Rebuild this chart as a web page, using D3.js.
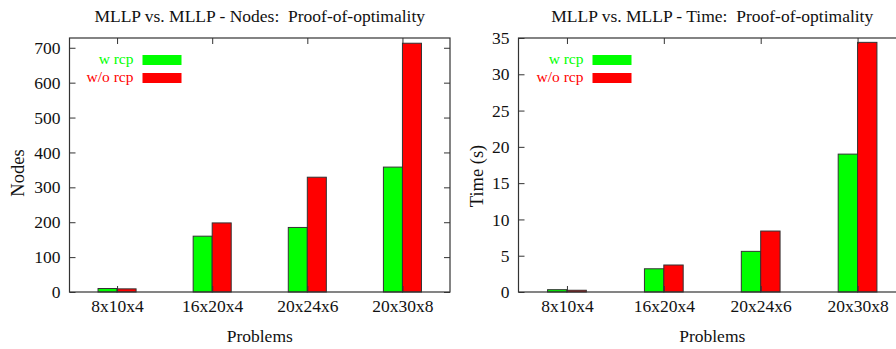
<!DOCTYPE html>
<html>
<head>
<meta charset="utf-8">
<script src="https://cdn.jsdelivr.net/npm/d3@7"></script>
<style>
  body { margin: 0; background: #fff; }
  svg text { font-family: "Liberation Serif", "Times New Roman", serif; white-space: pre; }
</style>
</head>
<body>
<div id="chart-area"></div>
<script>
// data
var problems = ["8x10x4", "16x20x4", "20x24x6", "20x30x8"];
var series = ["w rcp", "w/o rcp"];
var colors = ["#00ff00", "#ff0000"];

var nodesWith = [10, 160, 185, 358];
var nodesWithout = [9, 198, 329, 713];
var nodeTicks = [0, 100, 200, 300, 400, 500, 600, 700];

var timeWith = [0.32, 3.2, 5.6, 19.0];
var timeWithout = [0.24, 3.72, 8.4, 34.4];
var timeTicks = [0, 5, 10, 15, 20, 25, 30, 35];

var FONT = '"Liberation Serif", "Times New Roman", serif';
var FS = 17.5;

var svg = d3.select("#chart-area").append("svg")
    .attr("width", 896)
    .attr("height", 349)
    .attr("font-family", FONT);

function panel(opt) {
    var g = svg.append("g");
    var left = opt.left, right = opt.right, top = 38, bottom = 292;

    var x = d3.scaleLinear().domain([-0.5, 3.5]).range([left, right]);
    var y = d3.scaleLinear().domain([0, opt.ymax]).range([bottom, top]);
    var bw = x(0.2) - x(0);

    // bars
    [opt.a, opt.b].forEach(function (vals, s) {
        g.selectAll(null)
            .data(vals)
            .enter()
            .append("rect")
            .attr("x", (d, i) => x(i) - bw + s * bw)
            .attr("y", d => y(d))
            .attr("width", bw)
            .attr("height", d => bottom - y(d))
            .attr("fill", colors[s])
            .attr("stroke", "#333")
            .attr("stroke-width", 1);
    });

    // border
    g.append("rect")
        .attr("x", left).attr("y", top)
        .attr("width", right - left).attr("height", bottom - top)
        .attr("fill", "none").attr("stroke", "#333").attr("stroke-width", 1.2);

    // y ticks (left + mirror)
    var yAxis = d3.axisLeft(y).tickValues(opt.ticks).tickSize(-6).tickPadding(9);
    var ya = g.append("g").attr("transform", "translate(" + left + ",0)").call(yAxis);
    var yb = g.append("g").attr("transform", "translate(" + right + ",0)")
        .call(d3.axisRight(y).tickValues(opt.ticks).tickSize(-6).tickFormat(""));

    // x ticks (bottom + mirror)
    var xAxis = d3.axisBottom(x).tickValues([0, 1, 2, 3])
        .tickFormat(i => problems[i]).tickSize(-6).tickPadding(8);
    var xa = g.append("g").attr("transform", "translate(0," + bottom + ")").call(xAxis);
    var xb = g.append("g").attr("transform", "translate(0," + top + ")")
        .call(d3.axisTop(x).tickValues([0, 1, 2, 3]).tickSize(-6).tickFormat(""));

    [ya, yb, xa, xb].forEach(function (a) {
        a.attr("font-family", FONT).attr("font-size", FS);
        a.select(".domain").remove();
        a.selectAll("line").attr("stroke", "#333");
        a.selectAll("text").attr("fill", "#111");
    });

    // title
    g.append("text")
        .attr("x", (left + right) / 2).attr("y", 22)
        .attr("text-anchor", "middle")
        .attr("font-size", FS).attr("fill", "#111")
        .text(opt.title);

    g.append("text")
        .attr("x", (left + right) / 2).attr("y", 342)
        .attr("text-anchor", "middle")
        .attr("font-size", FS).attr("fill", "#111")
        .text("Problems");

    g.append("text")
        .attr("transform", "translate(" + opt.ylabX + "," + opt.ylabY + ") rotate(-90)")
        .attr("text-anchor", "middle")
        .attr("font-size", 18.5).attr("fill", "#111")
        .text(opt.ylabel);

    // legend
    var lg = g.append("g").attr("transform", "translate(" + (left + opt.legX) + ",0)");
    series.forEach(function (name, s) {
        lg.append("text")
            .attr("x", 0).attr("y", 64 + s * 18)
            .attr("text-anchor", "end")
            .attr("font-size", 15.5)
            .attr("fill", colors[s])
            .text(name);
        lg.append("rect")
            .attr("x", 9).attr("y", 55 + s * 18)
            .attr("width", 39).attr("height", 10)
            .attr("fill", colors[s]);
    });
}

panel({
    left: 69.5, right: 450, ymax: 728, ticks: nodeTicks,
    a: nodesWith, b: nodesWithout,
    title: "MLLP vs. MLLP - Nodes:  Proof-of-optimality",
    ylabel: "Nodes", ylabX: 24, ylabY: 173, legX: 64
});

panel({
    left: 518.5, right: 906, ymax: 35, ticks: timeTicks,
    a: timeWith, b: timeWithout,
    title: "MLLP vs. MLLP - Time:  Proof-of-optimality",
    ylabel: "Time (s)", ylabX: 483, ylabY: 176, legX: 65
});
</script>
</body>
</html>
